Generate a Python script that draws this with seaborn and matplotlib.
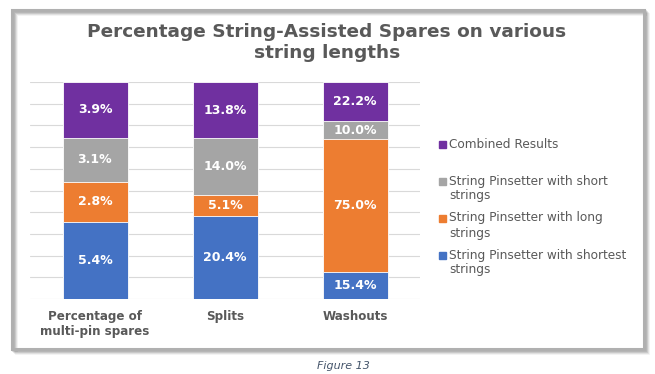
import matplotlib
matplotlib.use("Agg")
import matplotlib.pyplot as plt
import matplotlib.patches as mpatches
import seaborn as sns
import pandas as pd
import numpy as np

# values (stacked bottom -> top)
categories = ["Percentage of\nmulti-pin spares", "Splits", "Washouts"]
series = [
    "String Pinsetter with shortest\nstrings",
    "String Pinsetter with long\nstrings",
    "String Pinsetter with short\nstrings",
    "Combined Results",
]
shortest = [5.4, 20.4, 15.4]
long_str = [2.8, 5.1, 75.0]
short_str = [3.1, 14.0, 10.0]
combined = [3.9, 13.8, 22.2]
colors = ["#4472C4", "#ED7D31", "#A5A5A5", "#7030A0"]

values = np.array([shortest, long_str, short_str, combined])
share = values / values.sum(axis=0)
cum = share.cumsum(axis=0)

text_col = "#595959"
sns.set_theme(style="white")
plt.rcParams["font.family"] = ["DejaVu Sans"]

fig = plt.figure(figsize=(6.55, 3.74), dpi=100)
ax = fig.add_axes([30 / 655, 75 / 374, 390 / 655, 217 / 374])

# draw tallest cumulative layer first, smaller layers on top
for i in range(len(series) - 1, -1, -1):
    df = pd.DataFrame({"cat": categories, "top": cum[i]})
    sns.barplot(data=df, x="cat", y="top", color=colors[i], width=0.5,
                saturation=1, ax=ax, zorder=2, linewidth=0.6, edgecolor="white")

for i in range(len(series)):
    for j in range(len(categories)):
        mid = cum[i, j] - share[i, j] / 2
        ax.text(j, mid, f"{values[i, j]:.1f}%", ha="center", va="center",
                color="white", fontsize=9, fontweight="bold", zorder=5)

ax.set_ylim(0, 1)
ax.set_xlim(-0.5, 2.5)
ax.set_yticks(np.linspace(0, 1, 11))
ax.yaxis.grid(True, color="#d9d9d9", linewidth=0.8, zorder=0)
ax.set_axisbelow(True)
ax.tick_params(axis="y", left=False, labelleft=False)
ax.tick_params(axis="x", bottom=False, pad=2)
ax.set_xlabel("")
ax.set_ylabel("")
for lab in ax.get_xticklabels():
    lab.set_fontweight("bold")
    lab.set_color(text_col)
    lab.set_fontsize(8.6)
    lab.set_linespacing(1.2)
for s in ax.spines.values():
    s.set_visible(False)

fig.suptitle("Percentage String-Assisted Spares on various\nstring lengths",
             x=327 / 655, y=1 - 23 / 374, va="top", fontsize=13.3,
             fontweight="bold", color=text_col, linespacing=1.22)

# legend, top entry first
legend_y = [144, 181, 218, 255]
for k, i in enumerate(range(len(series) - 1, -1, -1)):
    yy = 1 - legend_y[k] / 374
    fig.patches.append(mpatches.Rectangle((439 / 655, yy - 3.5 / 374), 7 / 655, 7 / 374,
                                          transform=fig.transFigure, color=colors[i]))
    fig.text(449 / 655, yy + 6.5 / 374, series[i], ha="left", va="top",
             fontsize=8.7, color=text_col, linespacing=1.2)

# chart frame with a soft shadow
for off, a in [(4, 0.05), (3, 0.08), (2, 0.11), (1, 0.14)]:
    fig.patches.append(mpatches.Rectangle((12 / 655 + off / 655, 1 - 349 / 374 - off / 374),
                                          632 / 655, 339 / 374, transform=fig.transFigure,
                                          fill=False, edgecolor="black", alpha=a,
                                          linewidth=2, zorder=0))
fig.patches.append(mpatches.Rectangle((12 / 655, 1 - 349 / 374), 632 / 655, 339 / 374,
                                      transform=fig.transFigure, fill=False,
                                      edgecolor="#b0b0b0", linewidth=2.2, zorder=1))

fig.text(343 / 655, 1 - 366 / 374, "Figure 13", ha="center", va="center",
         fontsize=8, style="italic", color="#44546A")

fig.savefig("out.png", dpi=100)
